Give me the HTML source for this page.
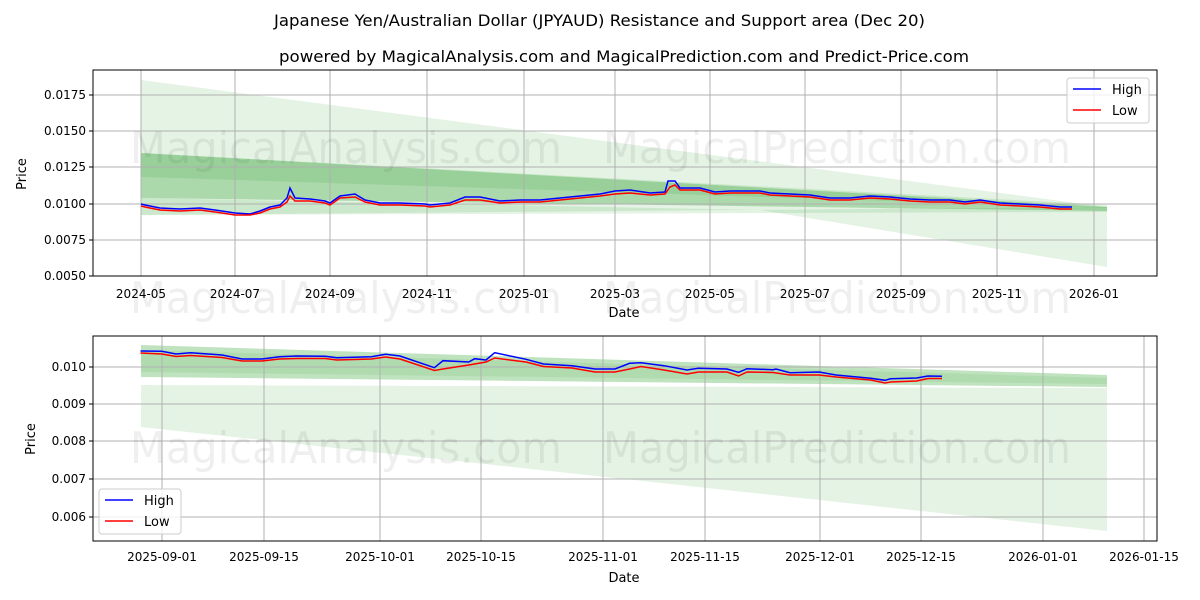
<!DOCTYPE html><html><head><style>body{margin:0;background:#fff}svg{display:block}text{font-family:"DejaVu Sans","Liberation Sans",sans-serif}</style></head><body>
<svg width="1200" height="600" xmlns="http://www.w3.org/2000/svg">
<text x="274" y="26" font-size="16" textLength="651" lengthAdjust="spacingAndGlyphs">Japanese Yen/Australian Dollar (JPYAUD) Resistance and Support area (Dec 20)</text>
<text x="279" y="62" font-size="16" textLength="690" lengthAdjust="spacingAndGlyphs">powered by MagicalAnalysis.com and MagicalPrediction.com and Predict-Price.com</text>
<!-- top chart -->
<g>
<polygon points="141,80 1107,207 1107,212 141,215" fill="#2ca02c" opacity="0.13"/>
<polygon points="141,198 760,210 1107,267 1107,207 141,215" fill="#2ca02c" opacity="0.13"/>
<polygon points="141,153 1107,207 1107,211 141,198" fill="#2ca02c" opacity="0.3"/>
<polygon points="141,153 1107,205 1107,208 141,177" fill="#2ca02c" opacity="0.15"/>
<g stroke="#b0b0b0" stroke-width="1">
<line x1="141" y1="70" x2="141" y2="276"/><line x1="235" y1="70" x2="235" y2="276"/><line x1="330" y1="70" x2="330" y2="276"/><line x1="427" y1="70" x2="427" y2="276"/><line x1="524" y1="70" x2="524" y2="276"/><line x1="615" y1="70" x2="615" y2="276"/><line x1="710" y1="70" x2="710" y2="276"/><line x1="805" y1="70" x2="805" y2="276"/><line x1="901" y1="70" x2="901" y2="276"/><line x1="997" y1="70" x2="997" y2="276"/><line x1="1094" y1="70" x2="1094" y2="276"/>
<line x1="93" y1="95" x2="1157" y2="95"/><line x1="93" y1="131" x2="1157" y2="131"/><line x1="93" y1="167" x2="1157" y2="167"/><line x1="93" y1="204" x2="1157" y2="204"/><line x1="93" y1="240" x2="1157" y2="240"/>
</g>
<text x="130" y="163" font-size="44" fill="#000" opacity="0.06" textLength="432" lengthAdjust="spacingAndGlyphs">MagicalAnalysis.com</text>
<text x="603" y="163" font-size="44" fill="#000" opacity="0.06" textLength="468" lengthAdjust="spacingAndGlyphs">MagicalPrediction.com</text>
<text x="130" y="313" font-size="44" fill="#000" opacity="0.06" textLength="432" lengthAdjust="spacingAndGlyphs">MagicalAnalysis.com</text>
<text x="603" y="313" font-size="44" fill="#000" opacity="0.06" textLength="468" lengthAdjust="spacingAndGlyphs">MagicalPrediction.com</text>
<polyline fill="none" stroke="#0000ff" stroke-width="1.5" points="141,204 145,205 160,208 180,209 200,208 215,210 235,213 250,214 260,211 270,207 280,205 287,198 290,188 295,198 310,199 325,201 330,203 340,196 355,194 365,200 380,203 400,203 425,204 430,205 450,203 465,197 480,197 500,201 520,200 540,200 560,198 580,196 600,194 615,191 630,190 650,193 665,192 668,181 675,181 680,188 700,188 715,192 730,191 760,191 770,193 790,194 810,195 830,198 850,198 870,196 890,197 910,199 930,200 950,200 965,202 980,200 1000,203 1020,204 1040,205 1060,207 1072,207"/>
<polyline fill="none" stroke="#ff0000" stroke-width="1.5" points="141,206 145,207 160,210 180,211 200,210 215,212 235,215 250,215 260,213 270,209 280,207 287,202 290,196 295,201 310,201 325,203 330,205 340,198 355,197 365,202 380,205 400,205 425,206 430,207 450,205 465,200 480,200 500,203 520,202 540,202 560,200 580,198 600,196 615,194 630,193 650,195 665,194 670,187 675,185 680,190 700,190 715,194 730,193 760,193 770,195 790,196 810,197 830,200 850,200 870,198 890,199 910,201 930,202 950,202 965,204 980,202 1000,205 1020,206 1040,207 1060,209 1072,209"/>
<rect x="93" y="70" width="1064" height="206" fill="none" stroke="#000" stroke-width="1"/>
<g font-size="12" text-anchor="end">
<text x="86" y="99">0.0175</text><text x="86" y="135">0.0150</text><text x="86" y="171">0.0125</text><text x="86" y="208">0.0100</text><text x="86" y="244">0.0075</text><text x="86" y="280">0.0050</text></g>
<g stroke="#000"><line x1="89" y1="95" x2="93" y2="95"/><line x1="89" y1="131" x2="93" y2="131"/><line x1="89" y1="167" x2="93" y2="167"/><line x1="89" y1="204" x2="93" y2="204"/><line x1="89" y1="240" x2="93" y2="240"/><line x1="89" y1="276" x2="93" y2="276"/></g>
<g font-size="12" text-anchor="middle">
<text x="141" y="298">2024-05</text><text x="235" y="298">2024-07</text><text x="330" y="298">2024-09</text><text x="427" y="298">2024-11</text><text x="524" y="298">2025-01</text><text x="615" y="298">2025-03</text><text x="710" y="298">2025-05</text><text x="805" y="298">2025-07</text><text x="901" y="298">2025-09</text><text x="997" y="298">2025-11</text><text x="1094" y="298">2026-01</text>
<text x="624" y="317" font-size="13">Date</text></g>
<text x="26" y="174" font-size="13" text-anchor="middle" transform="rotate(-90 26 174)">Price</text>
<rect x="1067" y="78" width="82" height="45" rx="3" fill="#fff" fill-opacity="0.8" stroke="#ccc"/>
<line x1="1073" y1="89" x2="1101" y2="89" stroke="#0000ff" stroke-width="1.5"/><text x="1112" y="94" font-size="13">High</text>
<line x1="1073" y1="110" x2="1101" y2="110" stroke="#ff0000" stroke-width="1.5"/><text x="1112" y="115" font-size="13">Low</text>
</g>
<!-- bottom chart -->
<g>
<polygon points="141,385 1107,388 1107,531 141,427" fill="#2ca02c" opacity="0.13"/>
<polygon points="141,345 1107,375 1107,387 141,377" fill="#2ca02c" opacity="0.3"/>
<polygon points="141,350 1107,378 1107,384 141,372" fill="#2ca02c" opacity="0.1"/>
<g stroke="#b0b0b0" stroke-width="1">
<line x1="162" y1="336" x2="162" y2="541"/><line x1="264" y1="336" x2="264" y2="541"/><line x1="380" y1="336" x2="380" y2="541"/><line x1="481" y1="336" x2="481" y2="541"/><line x1="603" y1="336" x2="603" y2="541"/><line x1="705" y1="336" x2="705" y2="541"/><line x1="820" y1="336" x2="820" y2="541"/><line x1="921" y1="336" x2="921" y2="541"/><line x1="1043" y1="336" x2="1043" y2="541"/><line x1="1144" y1="336" x2="1144" y2="541"/>
<line x1="93" y1="367" x2="1157" y2="367"/><line x1="93" y1="404" x2="1157" y2="404"/><line x1="93" y1="441" x2="1157" y2="441"/><line x1="93" y1="479" x2="1157" y2="479"/><line x1="93" y1="517" x2="1157" y2="517"/>
</g>
<text x="130" y="463" font-size="44" fill="#000" opacity="0.06" textLength="432" lengthAdjust="spacingAndGlyphs">MagicalAnalysis.com</text>
<text x="603" y="463" font-size="44" fill="#000" opacity="0.06" textLength="468" lengthAdjust="spacingAndGlyphs">MagicalPrediction.com</text>
<polyline fill="none" stroke="#0000ff" stroke-width="1.5" points="140.5,351 161.8,351.3 176,354 190.5,352.7 222,355 242,359 262,359 279.4,356.7 296.6,356 325.3,356.3 336.8,357.7 371.3,356.7 385.6,354.3 400,356 434.4,367.7 443,360.7 468.8,362 474.6,358.7 486,360 494.7,352.7 526,359.3 543.5,364 572,365.7 595,369 615,369 629.6,363.3 641,362.7 664,365.7 687,370 698.4,368.3 727,369 738.6,372.3 747,368.7 773,369.7 776,369 790,372.7 819,372 836,375 870.6,378.3 885,380.3 890.7,378.7 916.6,378 928,376 942,376.3"/>
<polyline fill="none" stroke="#ff0000" stroke-width="1.5" points="140.5,353 161.8,354 176,356.5 190.5,355.5 222,357.5 242,361 262,361 279.4,359 296.6,358.5 325.3,358.5 336.8,360 371.3,359 385.6,357 400,359 434.4,370.5 443,369 468.8,365 474.6,364 486,362 494.7,358 526,362 543.5,366.5 572,368 595,372 615,372 629.6,369 641,366.5 664,370 687,374 698.4,372 727,372 738.6,376 747,372 773,372.5 790,375 819,375 836,377 870.6,380 885,383 890.7,382 916.6,381 928,378.5 942,378.5"/>
<rect x="93" y="336" width="1064" height="205" fill="none" stroke="#000" stroke-width="1"/>
<g font-size="12" text-anchor="end">
<text x="86" y="371">0.010</text><text x="86" y="408">0.009</text><text x="86" y="445">0.008</text><text x="86" y="483">0.007</text><text x="86" y="521">0.006</text></g>
<g stroke="#000"><line x1="89" y1="367" x2="93" y2="367"/><line x1="89" y1="404" x2="93" y2="404"/><line x1="89" y1="441" x2="93" y2="441"/><line x1="89" y1="479" x2="93" y2="479"/><line x1="89" y1="517" x2="93" y2="517"/></g>
<g font-size="12" text-anchor="middle">
<text x="162" y="561">2025-09-01</text><text x="264" y="561">2025-09-15</text><text x="380" y="561">2025-10-01</text><text x="481" y="561">2025-10-15</text><text x="603" y="561">2025-11-01</text><text x="705" y="561">2025-11-15</text><text x="820" y="561">2025-12-01</text><text x="921" y="561">2025-12-15</text><text x="1043" y="561">2026-01-01</text><text x="1144" y="561">2026-01-15</text>
<text x="624" y="582" font-size="13">Date</text></g>
<text x="35" y="439" font-size="13" text-anchor="middle" transform="rotate(-90 35 439)">Price</text>
<rect x="99" y="489" width="82" height="45" rx="3" fill="#fff" fill-opacity="0.8" stroke="#ccc"/>
<line x1="105" y1="500" x2="133" y2="500" stroke="#0000ff" stroke-width="1.5"/><text x="144" y="505" font-size="13">High</text>
<line x1="105" y1="521" x2="133" y2="521" stroke="#ff0000" stroke-width="1.5"/><text x="144" y="526" font-size="13">Low</text>
</g>
</svg></body></html>
